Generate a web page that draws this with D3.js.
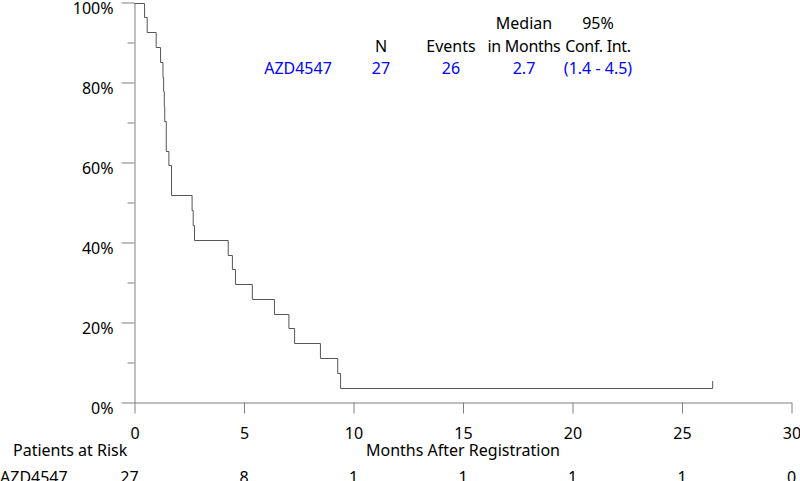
<!DOCTYPE html>
<html>
<head>
<meta charset="utf-8">
<script src="https://cdn.jsdelivr.net/npm/d3@7"></script>
<style>
  body { margin: 0; background: #fff; }
  svg { display: block; font-family: "Noto Sans", sans-serif; font-size: 16px; }
  .axis path, .axis line { stroke: #808080; }
  .axis text { fill: #000; }
</style>
</head>
<body>
<svg id="km" width="800" height="481"></svg>
<script>
// step times (months) and survival (%)
const stepTimes = [0, 0.46, 0.58, 0.99, 1.19, 1.30, 1.33, 1.36, 1.38, 1.45, 1.57, 1.69, 2.63, 2.68, 2.74,
                   4.28, 4.47, 4.61, 5.38, 6.39, 7.05, 7.31, 8.49, 9.28, 9.41, 26.4];
const survival = [100, 96.3, 92.6, 88.9, 85.2, 81.5, 77.8, 74.1, 70.4, 63.0, 59.3, 51.9, 48.1, 44.4, 40.7,
                  37.0, 33.3, 29.6, 25.9, 22.2, 18.5, 14.8, 11.1, 7.4, 3.7, 3.7];
const censorTimes = [26.4];
const censorSurv = [3.7];

const xTicks = [0, 5, 10, 15, 20, 25, 30];
const yTicks = [0, 20, 40, 60, 80, 100];
const yMinor = [10, 30, 50, 70, 90];
const atRisk = [27, 8, 1, 1, 1, 1, 0];

const legendHead1 = ["", "", "Median", "95%"];
const legendHead2 = ["N", "Events", "in Months", "Conf. Int."];
const legendRow = ["27", "26", "2.7", "(1.4 - 4.5)"];
const armName = "AZD4547";

window.addEventListener('load', () => {
    const svg = d3.select("#km");
    const legendX = [381, 451, 524, 598];

    const x = d3.scaleLinear().domain([0, 30]).range([134.5, 791.5]);
    const y = d3.scaleLinear().domain([0, 100]).range([402.5, 2.5]);

    // y axis: major + minor ticks
    const yAxis = svg.append("g")
        .attr("class", "axis")
        .attr("transform", `translate(${x(0)},0)`)
        .call(d3.axisLeft(y).tickValues(yTicks).tickSize(13).tickSizeOuter(0).tickFormat(d => d + "%"));
    yAxis.selectAll("text")
        .attr("x", -21)
        .attr("dy", "0.78em")
        .attr("y", -1.5);
    svg.append("g")
        .attr("class", "axis")
        .attr("transform", `translate(${x(0)},0)`)
        .call(d3.axisLeft(y).tickValues(yMinor).tickSize(7).tickSizeOuter(0).tickFormat(""))
        .select(".domain").remove();

    // x axis
    const xAxis = svg.append("g")
        .attr("class", "axis")
        .attr("transform", `translate(0,${y(0)})`)
        .call(d3.axisBottom(x).tickValues(xTicks).tickSize(11).tickSizeOuter(0));
    xAxis.selectAll("text")
        .attr("y", 25)
        .attr("dy", "0.71em");

    svg.selectAll(".axis").attr("font-size", null).attr("font-family", null);

    // KM step curve
    const pts = stepTimes.map((t, i) => [t, survival[i]]);
    svg.append("path")
        .datum(pts)
        .attr("fill", "none")
        .attr("stroke", "#555")
        .attr("stroke-width", 1)
        .attr("d", d3.line().x(d => x(d[0])).y(d => Math.round(y(d[1])) + 0.5).curve(d3.curveStepAfter));

    // censor marks
    svg.append("g")
        .selectAll("line")
        .data(censorTimes)
        .join("line")
        .attr("x1", d => x(d)).attr("x2", d => x(d))
        .attr("y1", (d, i) => Math.round(y(censorSurv[i])) + 0.5)
        .attr("y2", (d, i) => Math.round(y(censorSurv[i])) - 7)
        .attr("stroke", "#555");

    // legend
    const legend = svg.append("g").attr("text-anchor", "middle");
    legend.selectAll(".h1").data(legendHead1).join("text")
        .attr("x", (d, i) => legendX[i]).attr("y", 29).text(d => d);
    legend.selectAll(".h2").data(legendHead2).join("text")
        .attr("x", (d, i) => legendX[i]).attr("y", 52)
        .attr("letter-spacing", (d, i) => i >= 2 ? -0.3 : null)
        .text(d => d);
    legend.selectAll(".row").data(legendRow).join("text")
        .attr("x", (d, i) => legendX[i]).attr("y", 74).attr("fill", "#0000ff").text(d => d);
    legend.append("text")
        .attr("x", 298).attr("y", 74).attr("fill", "#0000ff").text(armName);

    // axis title
    svg.append("text")
        .attr("x", x(15)).attr("y", 456)
        .attr("text-anchor", "middle")
        .text("Months After Registration");

    // patients at risk
    svg.append("text")
        .attr("x", 13).attr("y", 456)
        .text("Patients at Risk");
    svg.append("text")
        .attr("x", 0).attr("y", 483)
        .text(armName);
    svg.append("g")
        .selectAll("text")
        .data(atRisk)
        .join("text")
        .attr("x", (d, i) => x(xTicks[i]) - (i === 0 ? 5 : 0))
        .attr("y", 483)
        .attr("text-anchor", "middle")
        .text(d => d);
});
</script>
</body>
</html>
